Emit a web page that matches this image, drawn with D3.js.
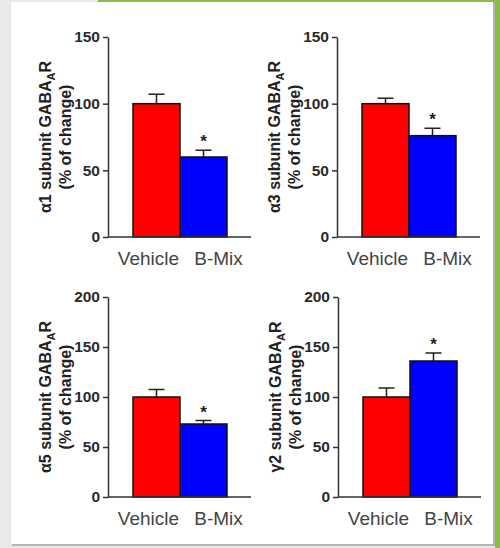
<!DOCTYPE html>
<html>
<head>
<meta charset="utf-8">
<script src="https://cdn.jsdelivr.net/npm/d3@7"></script>
<style>
  body { margin: 0; background: #fff; }
  svg { display: block; font-family: "Liberation Sans", Arial, sans-serif; }
</style>
</head>
<body>
<div class="chart"></div>
<script>
// values
const groups = ["Vehicle", "B-Mix"];
const subunits = ["α1", "α3", "α5", "γ2"];
const means = [[100, 60], [100, 76], [100, 73], [100, 136]];
const sems = [[7, 5], [4, 5.5], [7.5, 3.5], [9, 8]];
const yMax = [150, 150, 200, 200];
const yTicks = [[0, 50, 100, 150], [0, 50, 100, 150], [0, 50, 100, 150, 200], [0, 50, 100, 150, 200]];
const starred = [[false, true], [false, true], [false, true], [false, true]];
const barColors = ["#ff0000", "#0000ff"];

const W = 500, H = 548;
const plotW = 143, plotH = 200;

const svg = d3.select(".chart").append("svg")
    .attr("width", W)
    .attr("height", H);

// slide frame behind the figure
svg.append("rect").attr("width", W).attr("height", H).attr("fill", "#e9e9e9");
svg.append("rect").attr("x", 98).attr("y", 0).attr("width", W - 98).attr("height", 3).attr("fill", "#8cbb45");
svg.append("rect").attr("x", 495).attr("y", 0).attr("width", 5).attr("height", H).attr("fill", "#8cbb45");
svg.append("rect").attr("x", 12).attr("y", 3).attr("width", 483).attr("height", 543).attr("fill", "#b5b5b5");
svg.append("rect").attr("x", 11).attr("y", 2).attr("width", 482).attr("height", 542).attr("fill", "#fff");

const origins = [[108, 37], [337, 37], [108, 297], [338, 297]];
const labelShift = [-8, 15];

subunits.forEach((sub, i) => {
  const g = svg.append("g")
      .attr("transform", "translate(" + origins[i][0] + "," + origins[i][1] + ")");

  const x = d3.scaleBand()
      .domain(groups)
      .range([25, 25 + 94]);

  const y = d3.scaleLinear()
      .domain([0, yMax[i]])
      .range([plotH, 0]);

  const rows = groups.map((k, j) => ({key: k, mean: means[i][j], sem: sems[i][j], star: starred[i][j], color: barColors[j]}));

  // error bars (upper only)
  g.selectAll(".err").data(rows).enter().append("path")
      .attr("class", "err")
      .attr("d", d => {
        const cx = x(d.key) + x.bandwidth() / 2;
        return "M" + cx + "," + y(d.mean) + "V" + y(d.mean + d.sem) +
               "M" + (cx - 8) + "," + y(d.mean + d.sem) + "H" + (cx + 8);
      })
      .attr("stroke", "#222")
      .attr("stroke-width", 1.5)
      .attr("fill", "none");

  g.selectAll(".bar").data(rows).enter().append("rect")
      .attr("class", "bar")
      .attr("x", d => x(d.key))
      .attr("y", d => y(d.mean))
      .attr("width", x.bandwidth())
      .attr("height", d => plotH - y(d.mean))
      .attr("fill", d => d.color)
      .attr("stroke", "#111")
      .attr("stroke-width", 1.5);

  g.selectAll(".star").data(rows.filter(d => d.star)).enter().append("text")
      .attr("class", "star")
      .attr("x", d => x(d.key) + x.bandwidth() / 2)
      .attr("y", d => y(d.mean + d.sem) - 3)
      .attr("text-anchor", "middle")
      .style("font-size", "17px")
      .attr("font-weight", "bold")
      .attr("fill", "#222")
      .text("*");

  // y axis
  const yaxis = g.append("g")
      .call(d3.axisLeft(y).tickValues(yTicks[i]).tickSize(5).tickPadding(3).tickSizeOuter(0));
  yaxis.attr("font-family", null).attr("font-size", null);
  yaxis.select(".domain").attr("stroke", "#333").attr("stroke-width", 1.5);
  yaxis.selectAll(".tick line").attr("stroke", "#333").attr("stroke-width", 1.5);
  yaxis.selectAll(".tick text")
      .style("font-size", "15.5px")
      .style("font-weight", "bold")
      .attr("fill", "#2a2a2a");

  // x axis line
  g.append("line")
      .attr("x1", 0).attr("x2", plotW)
      .attr("y1", plotH).attr("y2", plotH)
      .attr("stroke", "#333")
      .attr("stroke-width", 1.5);

  g.selectAll(".xlab").data(groups).enter().append("text")
      .attr("class", "xlab")
      .attr("x", (d, j) => x(d) + x.bandwidth() / 2 + labelShift[j])
      .attr("y", plotH + 28)
      .attr("text-anchor", "middle")
      .style("font-size", "19px")
      .attr("fill", "#444")
      .text(d => d);

  // y axis title, two lines
  const t1 = g.append("text")
      .attr("transform", "translate(-57," + plotH / 2 + ") rotate(-90)")
      .attr("text-anchor", "middle")
      .style("font-size", "16px")
      .attr("font-weight", "bold")
      .attr("fill", "#222");
  t1.append("tspan").text(sub + " subunit GABA");
  t1.append("tspan").style("font-size", "11px").attr("dy", 4).text("A");
  t1.append("tspan").attr("dy", -4).text("R");

  g.append("text")
      .attr("transform", "translate(-37," + plotH / 2 + ") rotate(-90)")
      .attr("text-anchor", "middle")
      .style("font-size", "16px")
      .attr("font-weight", "bold")
      .attr("fill", "#222")
      .text("(% of change)");
});
</script>
</body>
</html>
